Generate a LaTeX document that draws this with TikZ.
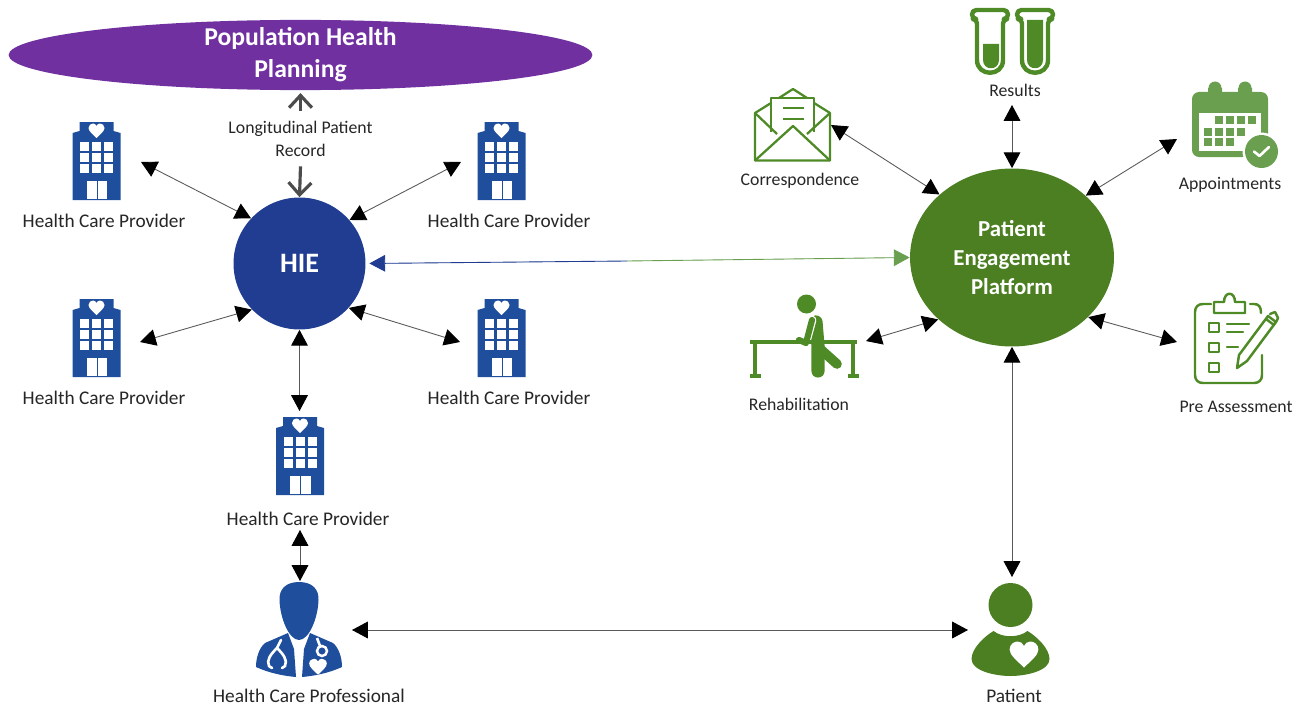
\documentclass[tikz,border=0pt]{standalone}
\usepackage{fontspec}
\usepackage{amsmath}
\usepackage{tikz}
\usetikzlibrary{arrows.meta,shapes.geometric}
\setmainfont{Carlito}

\definecolor{hospitalblue}{HTML}{1F4E9C}
\definecolor{hieblue}{HTML}{203D92}
\definecolor{popviolet}{HTML}{7030A0}
\definecolor{pepgreen}{HTML}{4B7F22}
\definecolor{icongreen}{HTML}{4E8A25}
\definecolor{calgreen}{HTML}{6A9F50}
\definecolor{arrowgray}{HTML}{595959}
\definecolor{labelgray}{HTML}{262626}

\tikzset{
	iconlabel/.style={text=labelgray, inner sep=0pt, font=\fontsize{11}{13}\selectfont},
	smalllabel/.style={iconlabel, font=\fontsize{10.1}{13}\selectfont},
	twoway/.style={{Triangle[color=black,length=9pt,width=9.5pt]}-{Triangle[color=black,length=9pt,width=9.5pt]}, draw=arrowgray, line width=0.5pt},
	recordarrow/.style={-{Straight Barb[length=7pt,width=13pt]}, draw=arrowgray!85!black, line width=1.8pt},
	hub/.style={ellipse, inner sep=0pt, text=white, align=center, font=\bfseries},
	heart/.pic={
		\fill[white] (0,7) .. controls (-4,3) and (-8,0) .. (-8,-3) .. controls (-8,-6) and (-5.5,-7.5) .. (-3.5,-7.5)
			.. controls (-2,-7.5) and (-0.5,-6.5) .. (0,-5) .. controls (0.5,-6.5) and (2,-7.5) .. (3.5,-7.5)
			.. controls (5.5,-7.5) and (8,-6) .. (8,-3) .. controls (8,0) and (4,3) .. (0,7) -- cycle;
	},
	hospital/.pic={
		\fill[hospitalblue] (-24,78) -- (-24,11) -- (-17,9) -- (-17,0) -- (17,0) -- (17,9) -- (24,11) -- (24,78) -- cycle;
		\pic at (0,9) {heart};
		% windows
		\foreach \wx in {-12,0,12}
			\foreach \wy in {24,35,46.5}
				\fill[white] (\wx-4.5,\wy-4.5) rectangle (\wx+4.5,\wy+4.5);
		% door
		\fill[white] (-10,59) rectangle (10.5,77);
		\draw[hospitalblue, line width=0.5pt] (0.5,59) -- (0.5,77);
	},
	tube/.pic={
		\draw[icongreen, line width=2.5pt, line join=round, rounded corners=2.5pt]
			(-13,60) -- (-13,19) -- (-18,19) -- (-18,10) -- (18,10) -- (18,19) -- (13,19) -- (13,60);
		\draw[icongreen, line width=2.5pt] (13,60) .. controls (13,77) and (-13,77) .. (-13,60);
	},
	envelope/.pic={
		\draw[icongreen, line width=1.3pt, line join=round]
			(814,103) -- (830,113) -- (830,160.5) -- (755,160.5) -- (755,113) -- (771,103);
		\draw[icongreen, line width=1.3pt, line join=round] (779,98) -- (793,89) -- (807,98);
		\draw[icongreen, line width=1.3pt, line join=round] (771,132) -- (771,98) -- (814,98) -- (814,132);
		\draw[icongreen, line width=1.3pt, line join=round] (755,160.5) -- (793,126) -- (830,160.5);
		\draw[icongreen, line width=1.3pt] (755,113) -- (777,134) (830,113) -- (807,134);
		\draw[icongreen, line width=1.3pt] (783,108) -- (804,108) (783,119) -- (804,119);
	},
}

\begin{document}
\begin{tikzpicture}[x=0.02cm,y=-0.02cm]
	\useasboundingbox (0,0) rectangle (1294,706);

	% Hubs
	\node[hub, fill=popviolet, inner ysep=-1.3pt, minimum width=11.68cm, font=\bfseries\fontsize{14.6}{18.1}\selectfont] (pop) at (300.5,55) {Population Health\\Planning};
	\node[hub, fill=hieblue, minimum width=2.64cm, minimum height=2.64cm, font=\bfseries\fontsize{16}{18}\selectfont] (hie) at (299.5,263.5) {HIE};
	\node[hub, fill=pepgreen, minimum width=4.08cm, minimum height=3.56cm, font=\bfseries\fontsize{13}{16.4}\selectfont] (pep) at (1012,257.5) {Patient\\Engagement\\Platform};
	\node[smalllabel, align=center, minimum height=1.1cm] (lpr) at (300.5,138.5) {Longitudinal Patient\\Record};

	% Hospitals
	\pic at (96.5,122) {hospital};
	\pic at (501.5,122) {hospital};
	\pic at (96.5,299) {hospital};
	\pic at (501.5,299) {hospital};
	\pic at (300,417) {hospital};

	% Labels
	\node[iconlabel] (hpnw) at (104,221) {Health Care Provider};
	\node[iconlabel] (hpne) at (509,221) {Health Care Provider};
	\node[iconlabel] (hpsw) at (104,398) {Health Care Provider};
	\node[iconlabel] (hpse) at (509,398) {Health Care Provider};
	\node[iconlabel] (hps) at (308,519) {Health Care Provider};
	\node[iconlabel] (hcp) at (309,696) {Health Care Professional};
	\node[iconlabel] (patient) at (1014,696) {Patient};
	\node[smalllabel] (corr) at (800,181) {Correspondence};
	\node[smalllabel] (results) at (1015,90) {Results};
	\node[smalllabel] (appt) at (1230,185) {Appointments};
	\node[smalllabel] (preas) at (1236,407) {Pre Assessment};
	\node[smalllabel] (rehab) at (799,404) {Rehabilitation};

	% Doctor
	\begin{scope}[shift={(299,582)}]
		\fill[hospitalblue] (0,0) .. controls (-14,0) and (-20,8) .. (-19.5,18) .. controls (-19,36) and (-10,58) .. (0,58)
			.. controls (10,58) and (19,36) .. (19.5,18) .. controls (20,8) and (14,0) .. (0,0) -- cycle;
		\fill[hospitalblue] (-11,51) -- (-34,61) .. controls (-40,66) and (-43,76) .. (-43,85) .. controls (-30,91) and (-15,94) .. (-3,95) -- (-5,67) -- cycle;
		\fill[hospitalblue] (11,51) -- (34,61) .. controls (40,66) and (43,76) .. (43,85) .. controls (30,91) and (15,94) .. (3,95) -- (5,67) -- cycle;
		\draw[white, line width=1.5pt, line cap=round] (-18,58) -- (-22,66) .. controls (-28,72) and (-33,78) .. (-30,84) -- (-27,86);
		\draw[white, line width=1.5pt, line cap=round] (-22,66) .. controls (-16,72) and (-11,78) .. (-14,84) -- (-17,86);
		\draw[white, line width=1.5pt] (18,56) -- (21,64);
		\draw[white, line width=1.4pt] (23,69) circle[radius=5];
		\pic[scale=1.1] at (19,85) {heart};
	\end{scope}

	% Patient
	\begin{scope}[shift={(1010.5,605)}]
		\fill[pepgreen] (0,0) circle[radius=22];
		\fill[pepgreen] (-17,26) .. controls (-8,33) and (8,33) .. (17,26) .. controls (27,32) and (39,44) .. (39,54)
			.. controls (39,66) and (15,71) .. (0,71) .. controls (-15,71) and (-39,66) .. (-39,54) .. controls (-39,44) and (-27,32) .. (-17,26) -- cycle;
		\pic[scale=1.8] at (13.5,50) {heart};
	\end{scope}

	% Results
	\pic at (990,0) {tube};
	\pic at (1035,0) {tube};
	\fill[icongreen] (983,44) -- (999,44) -- (999,60) .. controls (999,71) and (983,71) .. (983,60) -- cycle;
	\fill[icongreen] (1027,20) -- (1043,20) -- (1043,60) .. controls (1043,71) and (1027,71) .. (1027,60) -- cycle;

	% Correspondence
	\pic at (0,0) {envelope};

	% Appointments
	\fill[calgreen] (1208,88) rectangle (1222,100) (1238,88) rectangle (1252,100);
	\fill[calgreen] (1215,88) circle[radius=6.5] (1245,88) circle[radius=6.5];
	\fill[calgreen, rounded corners=4pt] (1192,92) rectangle (1268,157);
	\fill[white] (1199,113) rectangle (1261,150.5);
	\foreach \cx/\cy in {1219/120,1230/120,1241/120,1252/120,1208/131.5,1219/131.5,1230/131.5,1241/131.5,1208/142,1219/142,1230/142}
		\fill[calgreen] (\cx-4,\cy-4) rectangle (\cx+4,\cy+4);
	\fill[white] (1261.5,151.5) circle[radius=19];
	\fill[calgreen] (1261.5,151.5) circle[radius=16.5];
	\draw[white, line width=1.5pt, line cap=round, line join=round] (1254,151.5) -- (1259.5,156) -- (1269,147);

	% Pre Assessment
	\begin{scope}[icongreen, line width=1.4pt, line cap=round, line join=round]
		\draw (1211,304) -- (1203,304) .. controls (1198,304) and (1195,307) .. (1195,312) -- (1195,375) .. controls (1195,380) and (1198,383) .. (1203,383) -- (1254,383)
			.. controls (1259,383) and (1262,380) .. (1262,375) -- (1262,355);
		\draw (1250,304) -- (1254,304) .. controls (1259,304) and (1261,307) .. (1261,313);
		\draw (1214,313) -- (1245,313) -- (1245,302) -- (1235,302) .. controls (1235,291) and (1224,291) .. (1224,302) -- (1214,302) -- cycle;
		\draw (1209,323) rectangle (1219,332) (1209,343) rectangle (1219,352) (1209,363) rectangle (1219,372);
		\draw (1227,324) -- (1249,324) (1227,332) -- (1243,332) (1227,347) -- (1238,347);
		\draw (1237,368) -- (1239,355) -- (1268,316) -- (1276,322) -- (1247,361) -- cycle (1266,319) -- (1274,325);
		\draw (1270,314) -- (1275,312) -- (1278,318) -- (1276,322);
	\end{scope}

	% Rehabilitation
	\begin{scope}[icongreen]
		\fill (806.5,304) circle[radius=9.5];
		\draw[line width=7.5pt, line cap=round, line join=round] (816,322) -- (818,346) -- (818,371);
		\draw[line width=5.5pt, line cap=round] (818,347) -- (837,364);
		\draw[line width=5pt, line cap=round, line join=round, white] (812,320) -- (806,342);
		\draw[line width=3.5pt, line cap=round, line join=round] (812,320) -- (806,343) -- (799,340);
		\draw[line width=1.8pt] (750,342) -- (857,342);
		\draw[line width=1.8pt] (755,342) -- (755,376) (853,342) -- (853,376);
		\draw[line width=1.8pt] (750,376) -- (761,376) (848,376) -- (859,376);
	\end{scope}

	% Connector ends
	\coordinate (hpnwend) at (141,162);
	\coordinate (hpneend) at (461,162);
	\coordinate (hpswend) at (140,342);
	\coordinate (hpseend) at (460,342);
	\coordinate (hpstop) at (299.5,411);
	\coordinate (hpsbottom) at (300,530);
	\coordinate (hcptop) at (300,581);
	\coordinate (hcpright) at (352,630);
	\coordinate (patientleft) at (968,630);
	\coordinate (patienttop) at (1012,577);
	\coordinate (corrend) at (831,125);
	\coordinate (resultsend) at (1012,105);
	\coordinate (apptend) at (1177,139);
	\coordinate (preasend) at (1177,342);
	\coordinate (rehabend) at (866,341);
	\coordinate (linkmid) at (627,261);

	% HIE arrows
	\draw[twoway] (hpnwend) -- (hie.137);
	\draw[twoway] (hpneend) -- (hie.41);
	\draw[twoway] (hpswend) -- (hie.224);
	\draw[twoway] (hpseend) -- (hie.-42);
	\draw[twoway] (hie.south) -- (hpstop);
	\draw[twoway] (hpsbottom) -- (hcptop);
	\draw[twoway] (hcpright) -- (patientleft);
	\draw[recordarrow, shorten >=1.5pt] (lpr.north) -- (pop.south);
	\draw[recordarrow] (lpr.south) -- (hie.north);

	% HIE to platform
	\draw[{Triangle[length=9pt,width=9.5pt]}-, draw=hieblue, fill=hieblue, line width=0.5pt, shorten <=2pt] (hie.east) -- (linkmid);
	\draw[-{Triangle[length=9pt,width=9.5pt]}, draw=calgreen, fill=calgreen, line width=0.5pt] (linkmid) -- (pep.west);

	% Platform arrows
	\draw[twoway] (corrend) -- (pep.139);
	\draw[twoway] (resultsend) -- (pep.north);
	\draw[twoway] (apptend) -- (pep.40);
	\draw[twoway] (preasend) -- (pep.-38.5);
	\draw[twoway] (rehabend) -- (pep.220);
	\draw[twoway] (pep.south) -- (patienttop);
\end{tikzpicture}
\end{document}
